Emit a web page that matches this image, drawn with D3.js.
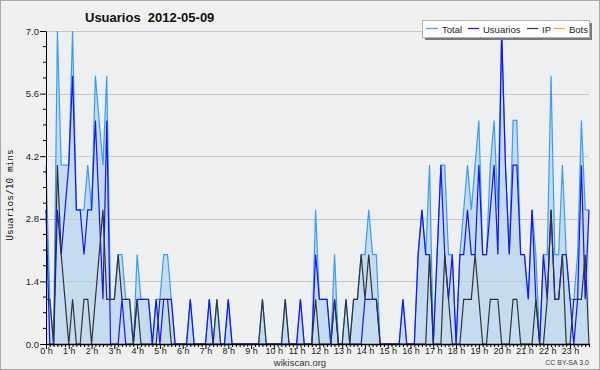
<!DOCTYPE html>
<html>
<head>
<meta charset="utf-8">
<script src="https://cdn.jsdelivr.net/npm/d3@7/dist/d3.min.js"></script>
<style>
  body { margin: 0; background: #fff; }
  svg { display: block; }
  text { font-family: "Liberation Sans", Arial, sans-serif; }
</style>
</head>
<body>
<svg id="chart" width="600" height="370"></svg>
<script>
var title = 'Usuarios  2012-05-09'
var yLabel = 'Usuarios/10 mins'
var hourLabels = ['0 h','1 h','2 h','3 h','4 h','5 h','6 h','7 h','8 h','9 h','10 h','11 h',
                  '12 h','13 h','14 h','15 h','16 h','17 h','18 h','19 h','20 h','21 h','22 h','23 h']
var yTicks = [0, 1.4, 2.8, 4.2, 5.6, 7.0]
var seriesNames = ['Total', 'Usuarios', 'IP', 'Bots']

// one value per 10 minutes, 00:00 -> 23:50
var total = [4,1,0,7,4,4,4,7,3,3,3,4, 3,6,5,4,6,1,1,2,2,1,1,0,
             2,1,1,1,0,1,1,2,2,1,0,0, 0,0,1,0,0,0,0,1,0,1,0,0,
             1,0,0,0,0,0,0,0,0,1,0,0, 0,0,0,1,0,0,0,1,0,0,0,3,
             1,1,1,0,2,0,0,1,0,1,1,2, 2,3,2,2,0,0,0,0,0,0,1,0,
             0,0,2,3,2,4,0,2,4,4,2,2, 0,2,3,4,3,4,5,2,2,4,5,3,
             7,4,2,5,5,2,2,1,3,2,0,2, 2,6,2,2,4,2,1,1,2,5,3,3]
var usuarios = [3,0,0,3,2,3,4,6,3,3,2,3, 3,5,3,1,5,0,0,0,1,0,0,0,
                1,1,1,1,0,1,0,1,1,1,0,0, 0,0,1,0,0,0,0,1,0,0,0,0,
                1,0,0,0,0,0,0,0,0,0,0,0, 0,0,0,0,0,0,0,1,0,0,0,2,
                1,1,1,0,1,0,0,0,0,0,0,0, 1,1,1,1,0,0,0,0,0,0,1,0,
                0,0,2,3,2,2,0,2,4,2,1,2, 0,2,2,3,2,2,4,2,2,3,4,2,
                7,4,2,4,4,2,2,1,3,1,0,2, 1,3,1,1,2,2,1,0,1,4,1,3]
var ip = [1,1,0,4,2,1,0,1,0,0,1,1, 0,1,2,3,1,1,1,2,1,1,1,0,
          1,0,0,0,0,0,1,1,1,0,0,0, 0,0,0,0,0,0,0,0,0,1,0,0,
          0,0,0,0,0,0,0,0,0,1,0,0, 0,0,0,1,0,0,0,0,0,0,0,1,
          0,0,0,0,1,0,0,1,0,1,1,2, 1,2,1,1,0,0,0,0,0,0,0,0,
          0,0,0,0,0,2,0,0,0,2,1,0, 0,0,1,1,1,2,1,0,0,1,1,1,
          0,0,0,1,1,0,0,0,0,1,0,0, 1,3,1,1,2,0,0,1,1,1,2,0]
var bots = [0,0,0,0,0,0,0,0,0,0,0,0, 0,0,0,0,0,0,0,0,0,0,0,0,
            0,0,0,0,0,0,0,0,0,0,0,0, 0,0,0,0,0,0,0,0,0,0,0,0,
            0,0,0,0,0,0,0,0,0,0,0,0, 0,0,0,0,0,0,0,0,0,0,0,0,
            0,0,0,0,0,0,0,0,0,0,0,0, 0,0,0,0,0,0,0,0,0,0,0,0,
            0,0,0,0,0,0,0,0,0,0,0,0, 0,0,0,0,0,0,0,0,0,0,0,0,
            0,0,0,0,0,0,0,0,0,0,0,0, 0,0,0,0,0,0,0,0,0,0,0,0]

var colors = { Total: '#3a9cf6', Usuarios: '#1414f5', IP: '#303338', Bots: '#ffa500' }

var svg = d3.select('#chart')
var W = 600, H = 370
var plot = { left: 46, right: 589, top: 31, bottom: 344 }

// background + outer frame
svg.append('rect').attr('x', 0.5).attr('y', 0.5).attr('width', W - 1).attr('height', H - 1)
    .style('fill', '#f0f0f0').style('stroke', '#a8a8a8')
svg.append('rect').attr('x', plot.left).attr('y', plot.top)
    .attr('width', plot.right - plot.left).attr('height', plot.bottom - plot.top)
    .style('fill', '#eeeff1')

var x = d3.scaleLinear().domain([0, total.length - 1]).range([plot.left, plot.right])
var y = d3.scaleLinear().domain([0, 7]).range([plot.bottom, plot.top])

var line = function(arr) {
    return d3.line().x(function(d, i) { return x(i) }).y(function(d) { return y(d) })(arr)
}
// bots under everything
svg.append('path').attr('d', line(bots)).style('fill', 'none')
    .style('stroke', colors.Bots).style('stroke-width', 1.2)

// area under total
var area = d3.area().x(function(d, i) { return x(i) }).y0(y(0)).y1(function(d) { return y(d) })
svg.append('path').attr('d', area(total)).style('fill', '#c5dcf0')

// horizontal grid
svg.append('g').selectAll('line').data(yTicks.slice(1)).enter().append('line')
    .attr('x1', plot.left).attr('x2', plot.right)
    .attr('y1', function(d) { return Math.round(y(d)) + 0.5 })
    .attr('y2', function(d) { return Math.round(y(d)) + 0.5 })
    .style('stroke', '#c8c8c8').style('stroke-width', 1)

svg.append('path').attr('d', line(total)).style('fill', 'none')
    .style('stroke', colors.Total).style('stroke-width', 1.2)
svg.append('path').attr('d', line(usuarios)).style('fill', 'none')
    .style('stroke', colors.Usuarios).style('stroke-width', 1.2)
svg.append('path').attr('d', line(ip)).style('fill', 'none')
    .style('stroke', colors.IP).style('stroke-width', 1.2)

// y axis
var yAxis = d3.axisLeft(y).tickValues(yTicks).tickFormat(d3.format('.1f')).tickSize(6).tickSizeOuter(0)
var gy = svg.append('g').attr('transform', 'translate(' + plot.left + ',0)').call(yAxis)
gy.selectAll('text').style('font-size', '9.5px').style('fill', '#222').attr('x', -7)
    .style('font-family', '"Liberation Sans", Arial, sans-serif')
gy.select('.domain').style('stroke', '#000')
gy.selectAll('.tick line').style('stroke', '#000')
var yMinor = d3.range(0, 7.01, 0.35).filter(function(v) { return Math.abs(v / 1.4 - Math.round(v / 1.4)) > 0.01 })
svg.append('g').selectAll('line').data(yMinor).enter().append('line')
    .attr('x1', plot.left - 3).attr('x2', plot.left)
    .attr('y1', function(d) { return y(d) }).attr('y2', function(d) { return y(d) })
    .style('stroke', '#000')

// x axis: tick every 10 min, label every hour
var xAxis = d3.axisBottom(x).tickValues(d3.range(0, total.length)).tickSize(3).tickSizeOuter(0)
    .tickFormat(function(d) { return d % 6 === 0 ? hourLabels[d / 6] : '' })
var gx = svg.append('g').attr('transform', 'translate(0,' + plot.bottom + ')').call(xAxis)
gx.select('.domain').style('stroke', '#000').style('stroke-width', 1.5)
gx.selectAll('.tick line').style('stroke', '#000')
    .attr('y2', function(d) { return d % 6 === 0 ? 5 : 3 })
gx.selectAll('text').style('font-size', '9px').style('fill', '#222').attr('y', 4)
    .style('font-family', '"Liberation Sans", Arial, sans-serif')

// titles
svg.append('text').attr('x', 85).attr('y', 22).text(title).style('white-space', 'pre')
    .style('font-weight', 'bold').style('font-size', '13px').style('fill', '#111')
svg.append('text').attr('transform', 'translate(13,195) rotate(-90)').attr('text-anchor', 'middle')
    .text(yLabel).style('font-family', '"DejaVu Sans Mono", monospace').style('font-size', '9.5px')
    .style('fill', '#111')
svg.append('text').attr('x', 300).attr('y', 366).attr('text-anchor', 'middle').text('wikiscan.org')
    .style('font-size', '9.5px').style('fill', '#333')
svg.append('text').attr('x', 589).attr('y', 365).attr('text-anchor', 'end').text('CC BY-SA 3.0')
    .style('font-size', '7px').style('fill', '#444')

// legend
var lg = svg.append('g').attr('transform', 'translate(422,20)')
lg.append('rect').attr('x', 3).attr('y', 3).attr('width', 167).attr('height', 17).style('fill', '#7a7a7a')
lg.append('rect').attr('x', 0.5).attr('y', 0.5).attr('width', 167).attr('height', 17)
    .style('fill', '#fff').style('stroke', '#b0b0b0')
var legendX = [4, 46, 105, 132]
var legendW = [12, 11, 11, 11]
seriesNames.forEach(function(name, k) {
    lg.append('line').attr('x1', legendX[k]).attr('x2', legendX[k] + legendW[k])
        .attr('y1', 8.5).attr('y2', 8.5).style('stroke', colors[name]).style('stroke-width', 1.2)
    lg.append('text').attr('x', legendX[k] + legendW[k] + 4).attr('y', 12.5).text(name)
        .style('font-size', '9.5px').style('fill', '#222')
})
</script>
</body>
</html>
